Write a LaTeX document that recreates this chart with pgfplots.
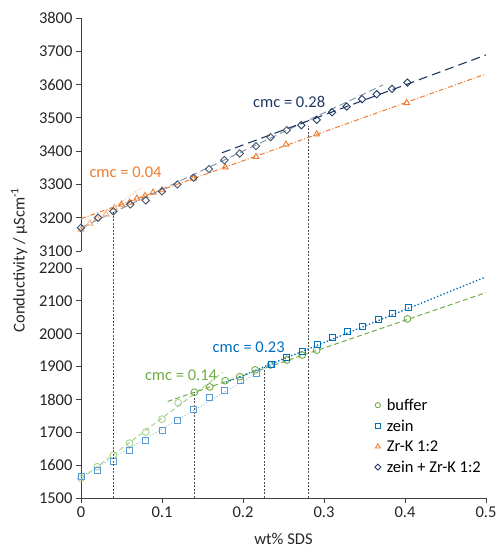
\documentclass[border=0pt]{standalone}
\usepackage{pgfplots}
\pgfplotsset{compat=1.18}
\usepackage{fontspec}
\setmainfont{Carlito}
\definecolor{grn}{HTML}{70AD47}
\definecolor{lgrn}{HTML}{A9D18E}
\definecolor{blu}{HTML}{0070C0}
\definecolor{mblu}{HTML}{5B9BD5}
\definecolor{lblu}{HTML}{9DC3E6}
\definecolor{org}{HTML}{ED7D31}
\definecolor{lorg}{HTML}{F4B183}
\definecolor{nvy}{HTML}{203864}
\definecolor{slt}{HTML}{44546A}
\definecolor{lslt}{HTML}{8497B0}
\newcommand{\fs}{\fontsize{16.5}{19.5}\selectfont}
\pgfplotsset{
  base/.style={scale only axis, width=405pt, xmin=0, xmax=0.5,
    tick align=outside, major tick length=5pt,
    /pgf/number format/assume math mode=true,
    /pgf/number format/1000 sep={},
    tick label style={font=\fs, text=black!85},
    axis line style={black!75, line width=0.8pt},
    tick style={black!75, line width=0.8pt},
    clip=false},
  mk/.style={only marks, mark size=3.4pt, line width=0.9pt, forget plot},
  dmk/.style={only marks, mark=square, mark size=2.6pt, mark options={rotate=45}, line width=0.9pt, forget plot},
}
\begin{document}
\begin{tikzpicture}
\useasboundingbox (-81pt,-50pt) rectangle (416pt,498pt);
% ---------------- top axis ----------------
\begin{axis}[base, name=top, at={(0pt,247pt)}, anchor=south west, height=233pt,
  ymin=3100, ymax=3800, ytick={3100,3200,3300,3400,3500,3600,3700,3800},
  axis x line=none, axis y line*=left]
% fits
\addplot[forget plot, lorg, line width=1pt, dotted] coordinates {(0,3163) (0.075,3290.5)};
\addplot[forget plot, org, line width=1pt, dash pattern=on 5pt off 2pt on 1pt off 2pt] coordinates {(0,3197) (0.5,3632)};
\addplot[forget plot, lslt, line width=1pt, dash pattern=on 7pt off 4pt] coordinates {(0,3170) (0.373,3599)};
\addplot[forget plot, nvy, line width=1.1pt, dash pattern=on 9pt off 5pt] coordinates {(0.174,3395) (0.5,3689)};
% Zr-K
\addplot[mk, mark=triangle, lorg] coordinates {(0,3163) (0.011,3183) (0.02,3198) (0.031,3210) (0.041,3230)};
\addplot[mk, mark=triangle, org] coordinates {(0.05,3240) (0.06,3246) (0.069,3258) (0.079,3266) (0.089,3276) (0.1,3283) (0.139,3318) (0.178,3352) (0.216,3383) (0.253,3420) (0.291,3451) (0.402,3545)};
% zein + Zr-K
\addplot[dmk, slt] coordinates {(0,3170) (0.021,3200) (0.04,3219) (0.061,3240) (0.08,3252) (0.1,3279) (0.119,3300) (0.139,3320) (0.158,3346) (0.177,3373) (0.196,3393) (0.216,3415) (0.234,3442) (0.254,3463)};
\addplot[dmk, nvy] coordinates {(0.272,3478) (0.291,3494) (0.31,3517) (0.328,3534) (0.347,3556) (0.365,3571) (0.384,3587) (0.403,3606)};
\node[text=org, font=\fs] at (axis cs:0.055,3337) {cmc = 0.04};
\node[text=nvy, font=\fs] at (axis cs:0.257,3548) {cmc = 0.28};
\coordinate (t04) at (axis cs:0.04,3219);
\coordinate (t28) at (axis cs:0.28,3475);
\end{axis}
% ---------------- bottom axis ----------------
\begin{axis}[base, name=bot, at={(0pt,0pt)}, anchor=south west, height=230pt,
  ymin=1500, ymax=2200, ytick={1500,1600,1700,1800,1900,2000,2100,2200},
  xtick={0,0.1,0.2,0.3,0.4,0.5}, xticklabels={0,0.1,0.2,0.3,0.4,0.5},
  axis x line*=bottom, axis y line*=left,
  legend style={draw=none, fill=none, font=\fs, at={(1,0.45)}, anchor=north east, row sep=4pt, column sep=4pt},
  legend cell align=left]
\addlegendimage{only marks, mark=o, grn, mark size=2.6pt, line width=0.9pt}
\addlegendentry{buffer}
\addlegendimage{only marks, mark=square, blu, mark size=2.4pt, line width=0.9pt}
\addlegendentry{zein}
\addlegendimage{only marks, mark=triangle, org, mark size=2.8pt, line width=0.9pt}
\addlegendentry{Zr-K 1:2}
\addlegendimage{only marks, mark=square, mark options={rotate=45}, nvy, mark size=2.1pt, line width=0.9pt}
\addlegendentry{zein + Zr-K 1:2}
% fits
\addplot[forget plot, lgrn, line width=1pt, dash pattern=on 5pt off 3pt] coordinates {(0,1558) (0.175,1882)};
\addplot[forget plot, grn, line width=1pt, dash pattern=on 5pt off 3pt] coordinates {(0.107,1794) (0.5,2125)};
\addplot[forget plot, lblu, line width=1.4pt, dash pattern=on 0.1pt off 3pt, line cap=round] coordinates {(0,1565) (0.26,1942)};
\addplot[forget plot, blu, line width=1.8pt, dash pattern=on 0.1pt off 3.4pt, line cap=round] coordinates {(0.18,1853) (0.5,2173)};
% buffer
\addplot[mk, mark=o, lgrn] coordinates {(0,1560) (0.02,1595) (0.04,1630) (0.06,1667) (0.08,1701) (0.1,1740) (0.12,1790)};
\addplot[mk, mark=o, grn] coordinates {(0.14,1822) (0.159,1838) (0.178,1857) (0.196,1869) (0.215,1890) (0.234,1905) (0.254,1920) (0.273,1935) (0.291,1950) (0.403,2045)};
% zein
\addplot[mk, mark=square, mark size=3pt, mblu] coordinates {(0,1565) (0.02,1583) (0.04,1612) (0.06,1645) (0.08,1674) (0.1,1706) (0.119,1737) (0.139,1768) (0.158,1805) (0.177,1828) (0.197,1857) (0.216,1879)};
\addplot[mk, mark=square, mark size=3pt, blu] coordinates {(0.235,1906) (0.254,1927) (0.273,1947) (0.292,1968) (0.311,1988) (0.329,2006) (0.348,2023) (0.367,2042) (0.385,2062) (0.404,2080)};
\node[text=grn, font=\fs] at (axis cs:0.1235,1874) {cmc = 0.14};
\node[text=blu, font=\fs] at (axis cs:0.207,1959) {cmc = 0.23};
\coordinate (b04) at (axis cs:0.04,1500);
\coordinate (b28) at (axis cs:0.28,1500);
\draw[black!70, line width=0.6pt, dash pattern=on 2pt off 1.5pt] (axis cs:0.14,1500) -- (axis cs:0.14,1822);
\draw[black!70, line width=0.6pt, dash pattern=on 2pt off 1.5pt] (axis cs:0.226,1500) -- (axis cs:0.226,1900);
\end{axis}
\draw[black!70, line width=0.6pt, dash pattern=on 2pt off 1.5pt] (b04) -- (t04);
\draw[black!70, line width=0.6pt, dash pattern=on 2pt off 1.5pt] (b28) -- (t28);
\node[rotate=90, font=\fs, text=black!85] at (-62pt,238pt) {Conductivity / µScm\textsuperscript{-1}};
\node[font=\fs, text=black!85] at (202.5pt,-41pt) {wt\% SDS};
\end{tikzpicture}
\end{document}
